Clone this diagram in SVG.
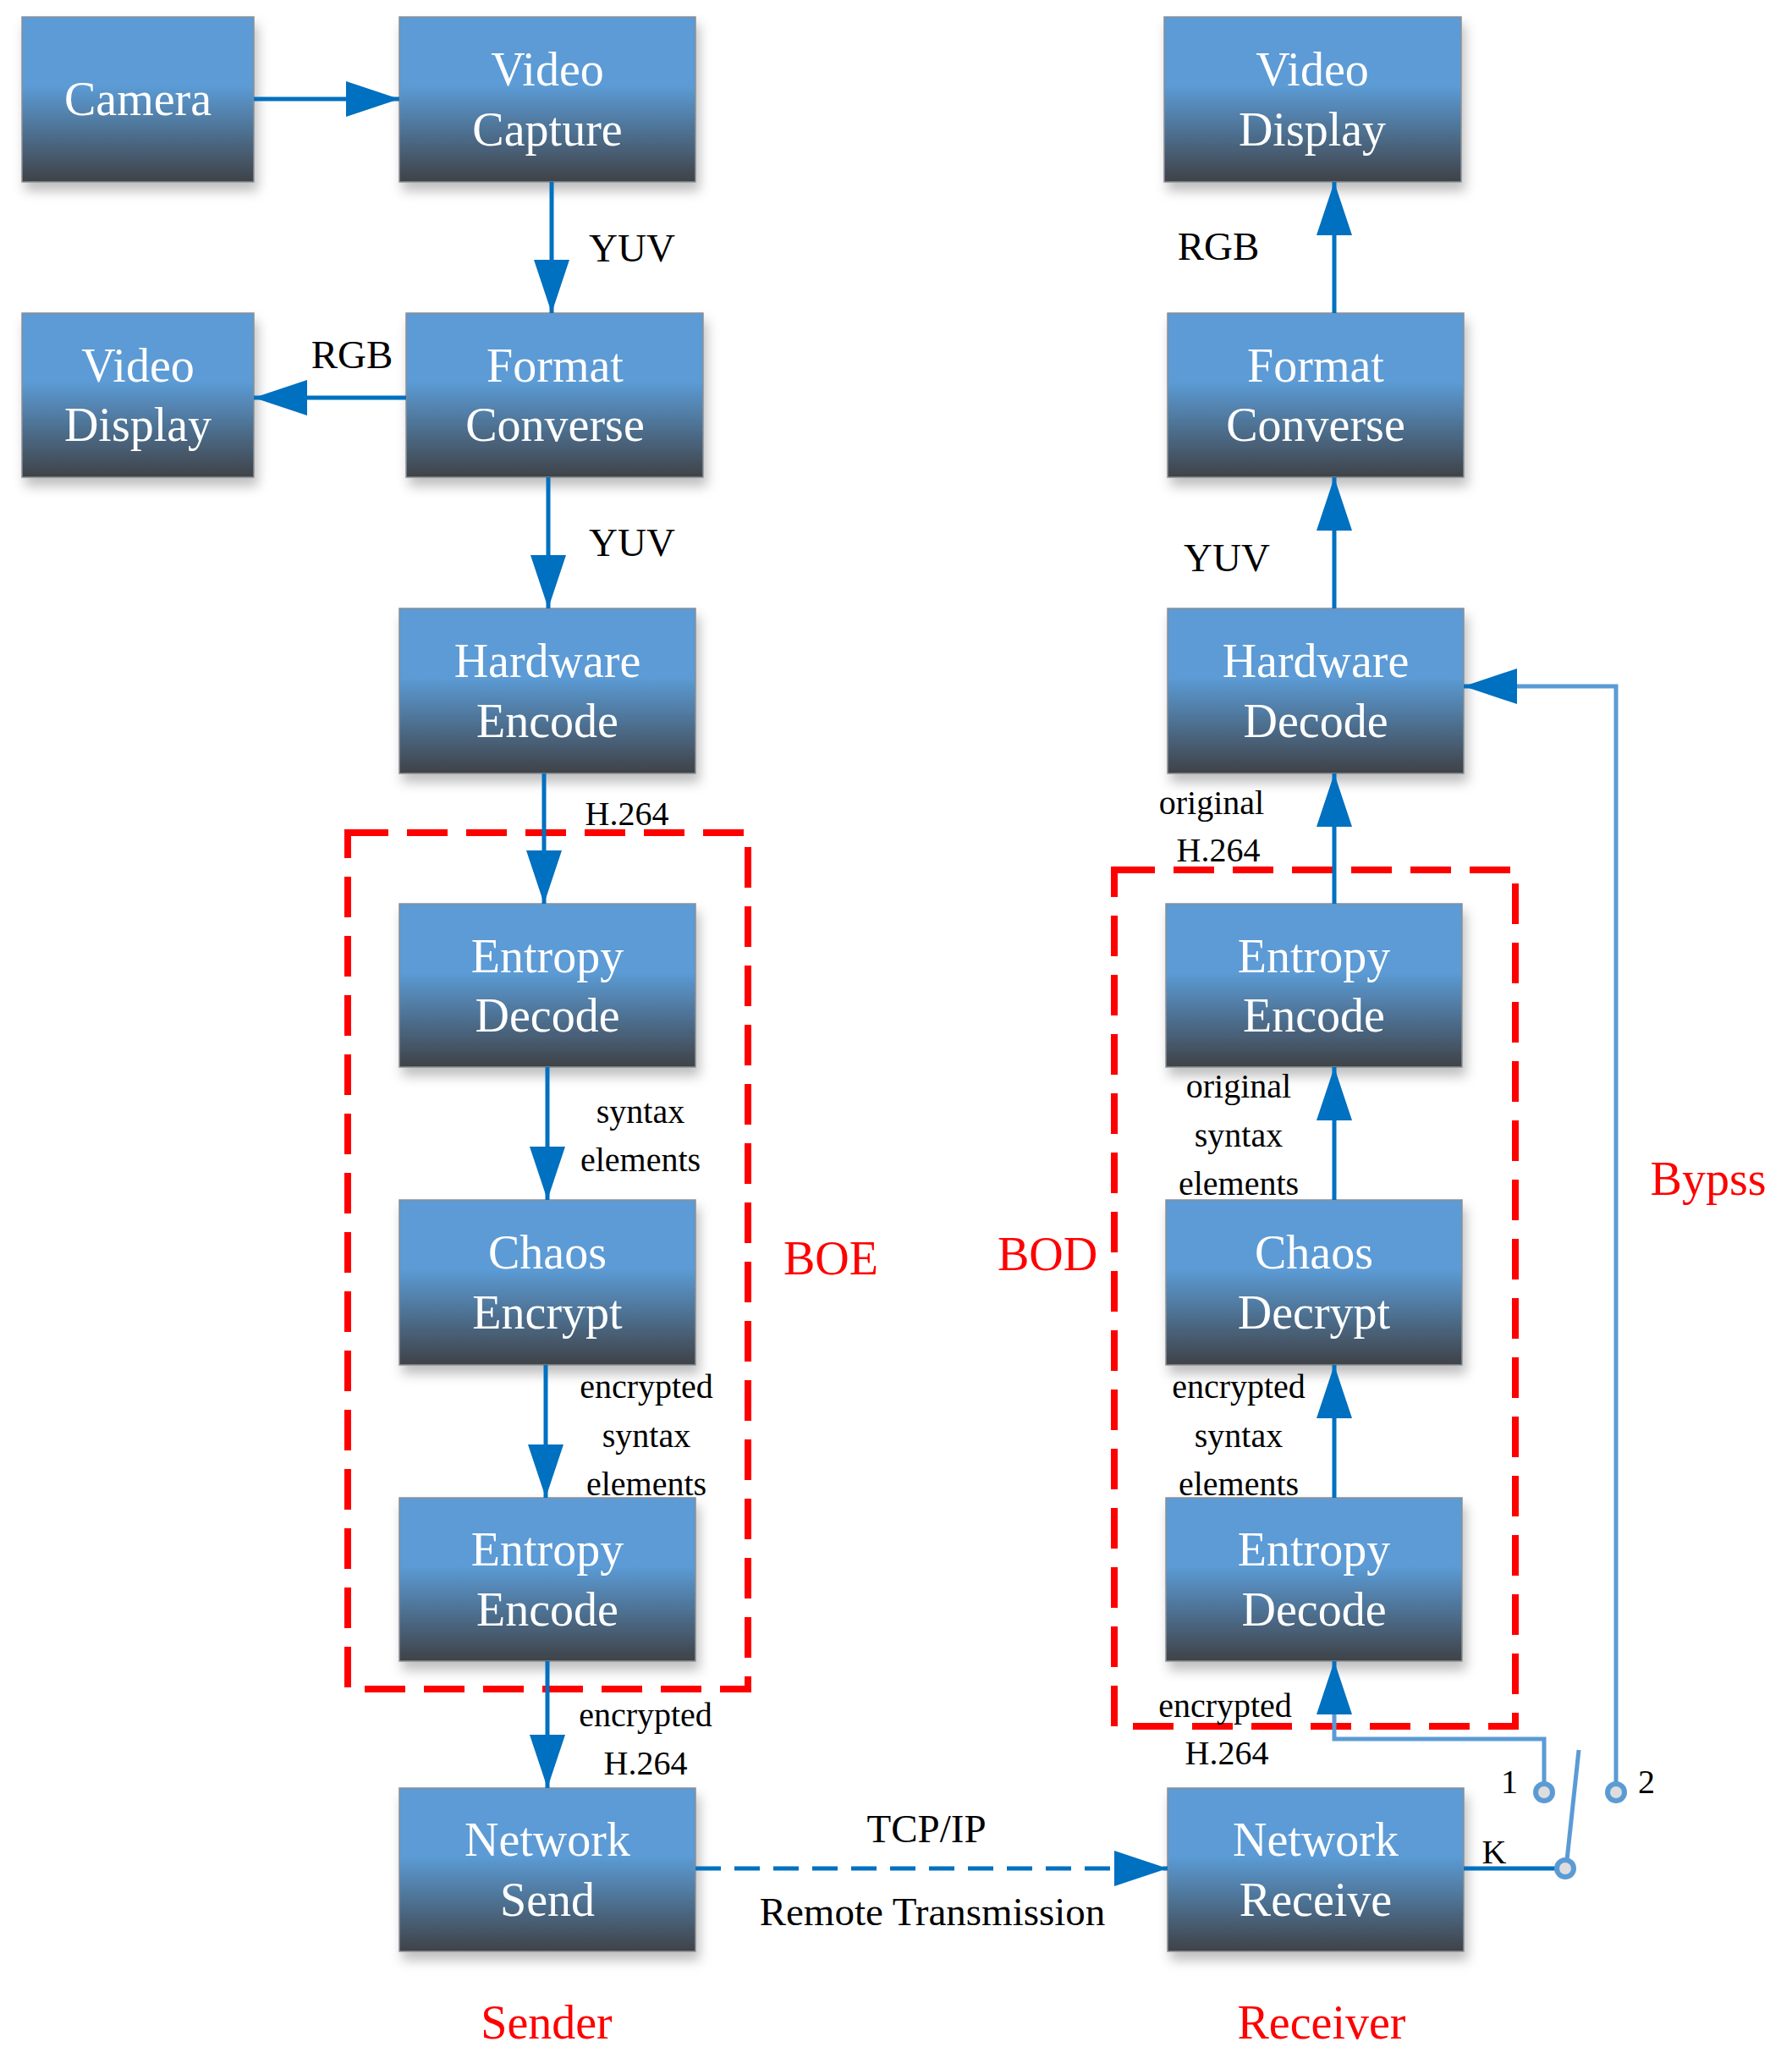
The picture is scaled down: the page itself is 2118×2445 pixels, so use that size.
<svg xmlns="http://www.w3.org/2000/svg" width="2118" height="2445" viewBox="0 0 2118 2445">
<defs>
<linearGradient id="g" x1="0" y1="0" x2="0" y2="1">
<stop offset="0" stop-color="#5B9BD5"/><stop offset="0.42" stop-color="#5B9BD5"/><stop offset="1" stop-color="#3F4247"/>
</linearGradient>
<filter id="sh" x="-10%" y="-10%" width="130%" height="140%"><feDropShadow dx="4" dy="10" stdDeviation="7" flood-color="#000" flood-opacity="0.25"/></filter>
<marker id="ah" viewBox="0 0 63 42" refX="63" refY="21" markerWidth="63" markerHeight="42" markerUnits="userSpaceOnUse" orient="auto"><path d="M0,0 L63,21 L0,42 Z" fill="#0070C0"/></marker>
</defs>
<style>
.b{fill:url(#g);stroke:#8a8f95;stroke-width:1.5;filter:url(#sh)}
.t{font-family:"Liberation Serif",serif;font-size:56px;fill:#fff;text-anchor:middle;dominant-baseline:central}
.l{font-family:"Liberation Serif",serif;font-size:47px;fill:#000;text-anchor:middle;dominant-baseline:central}
.s{font-family:"Liberation Serif",serif;font-size:40px;fill:#000;text-anchor:middle;dominant-baseline:central}
.r{font-family:"Liberation Serif",serif;font-size:56px;fill:#F00;text-anchor:middle;dominant-baseline:central}
.c{stroke:#0070C0;stroke-width:5;fill:none;marker-end:url(#ah)}
.p{stroke:#5B9BD5;stroke-width:5;fill:none}
.d{stroke:#F00;stroke-width:8;fill:none;stroke-dasharray:48,22}
</style>
<rect class="d" x="411" y="984" width="473" height="1012"/>
<rect class="d" x="1317" y="1028" width="474" height="1012"/>
<g id="camera"><rect class="b" x="26" y="20" width="274" height="195"/><text class="t" x="163" y="117">Camera</text></g>
<g id="vcap"><rect class="b" x="472" y="20" width="350" height="195"/><text class="t" x="647" y="82">Video</text><text class="t" x="647" y="153">Capture</text></g>
<g id="vdispL"><rect class="b" x="26" y="370" width="274" height="194"/><text class="t" x="163" y="432">Video</text><text class="t" x="163" y="502">Display</text></g>
<g id="fmtL"><rect class="b" x="480" y="370" width="351" height="194"/><text class="t" x="656" y="432">Format</text><text class="t" x="656" y="502">Converse</text></g>
<g id="hwenc"><rect class="b" x="472" y="719" width="350" height="195"/><text class="t" x="647" y="781">Hardware</text><text class="t" x="647" y="852">Encode</text></g>
<g id="entdecL"><rect class="b" x="472" y="1068" width="350" height="193"/><text class="t" x="647" y="1130">Entropy</text><text class="t" x="647" y="1200">Decode</text></g>
<g id="chaosE"><rect class="b" x="472" y="1418" width="350" height="195"/><text class="t" x="647" y="1480">Chaos</text><text class="t" x="647" y="1551">Encrypt</text></g>
<g id="entencL"><rect class="b" x="472" y="1770" width="350" height="193"/><text class="t" x="647" y="1831">Entropy</text><text class="t" x="647" y="1902">Encode</text></g>
<g id="netsend"><rect class="b" x="472" y="2113" width="350" height="193"/><text class="t" x="647" y="2174">Network</text><text class="t" x="647" y="2245">Send</text></g>
<g id="vdispR"><rect class="b" x="1376" y="20" width="351" height="195"/><text class="t" x="1551" y="82">Video</text><text class="t" x="1551" y="153">Display</text></g>
<g id="fmtR"><rect class="b" x="1380" y="370" width="350" height="194"/><text class="t" x="1555" y="432">Format</text><text class="t" x="1555" y="502">Converse</text></g>
<g id="hwdec"><rect class="b" x="1380" y="719" width="350" height="195"/><text class="t" x="1555" y="781">Hardware</text><text class="t" x="1555" y="852">Decode</text></g>
<g id="entencR"><rect class="b" x="1378" y="1068" width="350" height="193"/><text class="t" x="1553" y="1130">Entropy</text><text class="t" x="1553" y="1200">Encode</text></g>
<g id="chaosD"><rect class="b" x="1378" y="1418" width="350" height="195"/><text class="t" x="1553" y="1480">Chaos</text><text class="t" x="1553" y="1551">Decrypt</text></g>
<g id="entdecR"><rect class="b" x="1378" y="1770" width="350" height="193"/><text class="t" x="1553" y="1831">Entropy</text><text class="t" x="1553" y="1902">Decode</text></g>
<g id="netrecv"><rect class="b" x="1380" y="2113" width="350" height="193"/><text class="t" x="1555" y="2174">Network</text><text class="t" x="1555" y="2245">Receive</text></g>
<g id="connectors">
<line class="c" x1="300" y1="117" x2="472" y2="117"/>
<line class="c" x1="652" y1="215" x2="652" y2="370"/>
<line class="c" x1="480" y1="470" x2="300" y2="470"/>
<line class="c" x1="648" y1="564" x2="648" y2="719"/>
<line class="c" x1="643" y1="914" x2="643" y2="1068"/>
<line class="c" x1="647" y1="1261" x2="647" y2="1418"/>
<line class="c" x1="645" y1="1613" x2="645" y2="1770"/>
<line class="c" x1="647" y1="1963" x2="647" y2="2113"/>
<line class="c" x1="822" y1="2208" x2="1380" y2="2208" stroke-dasharray="30,16"/>
<line class="c" x1="1577" y1="370" x2="1577" y2="215"/>
<line class="c" x1="1577" y1="719" x2="1577" y2="564"/>
<line class="c" x1="1577" y1="1068" x2="1577" y2="914"/>
<line class="c" x1="1577" y1="1418" x2="1577" y2="1261"/>
<line class="c" x1="1577" y1="1770" x2="1577" y2="1613"/>
<path class="p" d="M1825,2108 V2055 H1577 V2010"/>
<line class="c" x1="1577" y1="2012" x2="1577" y2="1963"/>
<path class="p" d="M1910,2108 V811 H1780"/>
<line class="c" x1="1785" y1="811" x2="1730" y2="811"/>
<line x1="1730" y1="2208" x2="1840" y2="2208" stroke="#0070C0" stroke-width="5"/>
<line class="p" x1="1852" y1="2198" x2="1866" y2="2068"/>
<circle cx="1850" cy="2208" r="10" fill="#ddd" stroke="#5B9BD5" stroke-width="6"/>
<circle cx="1825" cy="2118" r="10" fill="#ddd" stroke="#5B9BD5" stroke-width="6"/>
<circle cx="1910" cy="2118" r="10" fill="#ddd" stroke="#5B9BD5" stroke-width="6"/>
</g>
<text class="l" x="747" y="293">YUV</text>
<text class="l" x="416" y="419">RGB</text>
<text class="l" x="747" y="641">YUV</text>
<text class="s" x="741" y="961">H.264</text>
<text class="s" x="757" y="1313">syntax</text><text class="s" x="757" y="1370">elements</text>
<text class="s" x="764" y="1638">encrypted</text><text class="s" x="764" y="1696">syntax</text><text class="s" x="764" y="1753">elements</text>
<text class="s" x="763" y="2026">encrypted</text><text class="s" x="763" y="2083">H.264</text>
<text class="l" x="1095" y="2161">TCP/IP</text>
<text class="l" x="1102" y="2259">Remote Transmission</text>
<text class="l" x="1440" y="291">RGB</text>
<text class="l" x="1450" y="659">YUV</text>
<text class="s" x="1432" y="948">original</text><text class="s" x="1440" y="1004">H.264</text>
<text class="s" x="1464" y="1283">original</text><text class="s" x="1464" y="1341">syntax</text><text class="s" x="1464" y="1398">elements</text>
<text class="s" x="1464" y="1638">encrypted</text><text class="s" x="1464" y="1696">syntax</text><text class="s" x="1464" y="1753">elements</text>
<text class="s" x="1448" y="2015">encrypted</text><text class="s" x="1450" y="2071">H.264</text>
<text class="s" x="1784" y="2105">1</text>
<text class="s" x="1946" y="2105">2</text>
<text class="s" x="1766" y="2188">K</text>
<text class="r" x="982" y="1487">BOE</text>
<text class="r" x="1238" y="1482">BOD</text>
<text class="r" x="2019" y="1393">Bypss</text>
<text class="r" x="646" y="2390" font-size="65">Sender</text>
<text class="r" x="1562" y="2390" font-size="65">Receiver</text>
</svg>
